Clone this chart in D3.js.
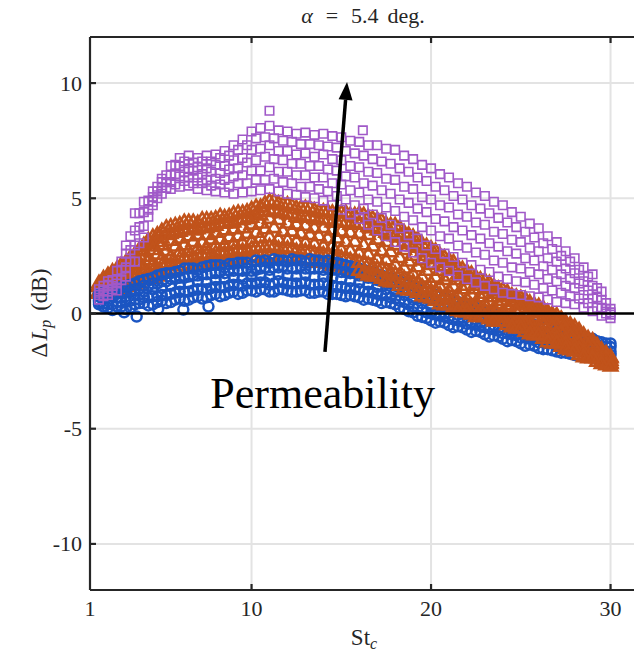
<!DOCTYPE html>
<html><head><meta charset="utf-8">
<script src="https://cdn.jsdelivr.net/npm/d3@7"></script>
<style>body{margin:0;background:#fff;} svg{display:block;}</style>
</head><body>
<svg id="chart" width="634" height="655"></svg>
<script>
// ---------- data ----------
const stGridA = [1.5,2,2.5,3,3.5,4,4.5,5,5.5,6,6.5,7,7.5,8,8.5,9,9.5,10,10.5,11,11.5,12,12.5,13,13.5,14,14.5,15,15.5,16,16.5,17,17.5,18,18.5,19,19.5,20,20.5,21,21.5,22,22.5,23,23.5,24,24.5,25,25.5,26,26.5,27,27.5,28,28.5,29,29.5,30];
const stGridB = [1.75,2.25,2.75,3.25,3.75,4.25,4.75,5.25,5.75,6.25,6.75,7.25,7.75,8.25,8.75,9.25,9.75,10.25,10.75,11.25,11.75,12.25,12.75,13.25,13.75,14.25,14.75,15.25,15.75,16.25,16.75,17.25,17.75,18.25,18.75,19.25,19.75,20.25,20.75,21.25,21.75,22.25,22.75,23.25,23.75,24.25,24.75,25.25,25.75,26.25,26.75,27.25,27.75,28.25,28.75,29.25,29.75];

// blue circles
const blueA1 = [0.85,0.95,1.05,1.2,1.3,1.45,1.55,1.7,1.75,1.85,1.95,1.9,2.05,2.1,2.0,2.15,2.2,2.1,2.25,2.2,2.3,2.25,2.3,2.2,2.3,2.25,2.2,2.15,2.05,1.95,1.85,1.7,1.6,1.45,1.3,1.2,1.0,0.9,0.75,0.6,0.5,0.35,0.25,0.1,0.0,-0.15,-0.2,-0.35,-0.4,-0.55,-0.6,-0.75,-0.8,-0.95,-1.0,-1.1,-1.25,-1.3];
const blueA2 = [0.6,0.55,0.7,0.75,0.85,0.95,1.05,1.1,1.2,1.25,1.3,1.4,1.35,1.45,1.5,1.55,1.5,1.6,1.65,1.6,1.7,1.65,1.6,1.7,1.6,1.6,1.55,1.5,1.4,1.35,1.25,1.15,1.05,0.95,0.8,0.6,0.45,0.3,0.2,0.05,-0.05,-0.15,-0.25,-0.35,-0.5,-0.6,-0.7,-0.8,-0.9,-1.0,-1.1,-1.15,-1.25,-1.35,-1.4,-1.5,-1.55,-1.65];
const blueA3 = [0.4,0.25,0.3,0.2,0.4,0.45,0.4,0.55,0.5,0.65,0.6,0.75,0.7,0.85,0.8,0.95,0.9,1.0,1.05,0.95,1.05,1.0,0.95,1.0,0.9,0.95,0.85,0.8,0.8,0.7,0.65,0.55,0.5,0.4,0.2,0.05,-0.15,-0.3,-0.35,-0.5,-0.55,-0.7,-0.75,-0.9,-0.95,-1.1,-1.15,-1.3,-1.35,-1.5,-1.55,-1.65,-1.7,-1.8,-1.85,-1.9,-1.95,-2.0];
const blueA4 = [0.75,0.8,0.85,1.0,1.05,1.2,1.3,1.4,1.5,1.55,1.6,1.65,1.7,1.75,1.75,1.85,1.85,1.85,1.95,1.9,2.0,1.95,1.95,1.95,1.95,1.9,1.9,1.8,1.75,1.65,1.55,1.45,1.3,1.2,1.05,0.9,0.7,0.6,0.45,0.35,0.2,0.1,0.0,-0.1,-0.25,-0.35,-0.45,-0.55,-0.65,-0.8,-0.85,-0.95,-1.05,-1.15,-1.2,-1.3,-1.4,-1.45];
const blueA5 = [0.5,0.4,0.5,0.5,0.6,0.7,0.75,0.8,0.85,0.95,0.95,1.05,1.05,1.15,1.15,1.25,1.2,1.3,1.35,1.25,1.4,1.3,1.3,1.35,1.25,1.3,1.2,1.15,1.1,1.05,0.95,0.85,0.8,0.65,0.5,0.3,0.15,0.0,-0.1,-0.2,-0.3,-0.45,-0.5,-0.6,-0.7,-0.85,-0.9,-1.05,-1.1,-1.25,-1.3,-1.4,-1.45,-1.55,-1.6,-1.7,-1.75,-1.8];
const blueB1 = [0.7,0.75,0.9,1.0,1.1,1.2,1.3,1.4,1.5,1.55,1.65,1.7,1.75,1.8,1.85,1.9,1.95,1.9,2.0,2.0,2.05,2.0,2.05,1.95,2.0,1.95,1.9,1.8,1.75,1.65,1.55,1.4,1.3,1.15,1.0,0.85,0.65,0.55,0.4,0.3,0.15,0.05,-0.1,-0.2,-0.3,-0.4,-0.5,-0.6,-0.7,-0.8,-0.9,-1.0,-1.05,-1.15,-1.25,-1.35,-1.45];
const blueB2 = [0.45,0.4,0.5,0.55,0.6,0.7,0.75,0.8,0.9,0.95,1.0,1.05,1.1,1.15,1.2,1.25,1.3,1.3,1.35,1.3,1.35,1.3,1.3,1.25,1.25,1.2,1.15,1.1,1.05,0.95,0.9,0.8,0.7,0.55,0.4,0.25,0.05,-0.05,-0.15,-0.25,-0.35,-0.45,-0.55,-0.65,-0.75,-0.85,-0.95,-1.05,-1.15,-1.25,-1.3,-1.4,-1.5,-1.55,-1.65,-1.7,-1.8];
const blueB3 = [0.3,0.15,0.3,0.25,0.45,0.35,0.5,0.45,0.6,0.55,0.7,0.65,0.8,0.75,0.9,0.85,1.0,0.95,1.05,0.95,1.05,0.95,1.0,0.9,0.95,0.85,0.85,0.75,0.75,0.6,0.6,0.45,0.45,0.25,0.1,-0.1,-0.2,-0.4,-0.4,-0.6,-0.6,-0.8,-0.8,-1.0,-1.0,-1.2,-1.2,-1.4,-1.4,-1.55,-1.6,-1.7,-1.75,-1.85,-1.85,-1.95,-1.95];
const blueB4 = [0.9,1.0,1.15,1.25,1.4,1.5,1.65,1.75,1.8,1.95,1.95,2.0,2.1,2.1,2.15,2.2,2.2,2.3,2.3,2.35,2.3,2.35,2.3,2.35,2.3,2.3,2.2,2.1,2.0,1.9,1.8,1.65,1.55,1.4,1.25,1.1,0.95,0.8,0.7,0.55,0.4,0.3,0.15,0.05,-0.05,-0.2,-0.3,-0.4,-0.5,-0.6,-0.7,-0.8,-0.9,-1.0,-1.1,-1.2,-1.3];
const blueExtraSt = [3.6,6.2,7.6,2.9,4.8];
const blueExtraDb = [-0.13,0.17,0.3,0.05,0.2];

// orange triangles
const orangeA1 = [1.3,1.65,1.9,2.2,2.55,2.95,3.3,3.55,3.75,3.85,3.95,3.9,4.05,4.1,4.15,4.3,4.35,4.5,4.6,4.85,4.75,4.7,4.55,4.55,4.45,4.4,4.35,4.35,4.25,4.3,4.15,4.05,3.85,3.8,3.5,3.3,3.0,2.8,2.5,2.3,2.0,1.8,1.55,1.4,1.15,1.0,0.75,0.65,0.45,0.3,0.05,-0.1,-0.4,-0.6,-0.95,-1.2,-1.6,-1.9];
const orangeA2 = [1.15,1.4,1.65,1.8,2.2,2.45,2.75,2.95,3.15,3.25,3.35,3.4,3.4,3.5,3.6,3.65,3.7,3.85,3.9,4.1,4.05,3.9,3.85,3.8,3.7,3.7,3.6,3.55,3.5,3.45,3.4,3.2,3.1,2.95,2.75,2.5,2.3,2.1,1.85,1.6,1.45,1.2,1.05,0.85,0.7,0.55,0.35,0.2,0.05,-0.15,-0.3,-0.5,-0.75,-0.95,-1.2,-1.45,-1.75,-2.05];
const orangeA3 = [0.95,1.2,1.3,1.5,1.65,1.95,2.1,2.35,2.45,2.65,2.7,2.8,2.8,2.9,2.95,3.0,3.05,3.1,3.25,3.3,3.2,3.15,3.1,3.05,3.0,2.9,2.9,2.75,2.7,2.6,2.55,2.35,2.3,2.1,1.95,1.7,1.55,1.3,1.15,0.95,0.8,0.6,0.45,0.35,0.2,0.05,-0.1,-0.25,-0.4,-0.55,-0.8,-0.9,-1.15,-1.3,-1.55,-1.75,-1.95,-2.15];
const orangeA4 = [0.85,0.95,1.0,1.15,1.2,1.45,1.5,1.75,1.8,2.05,2.05,2.2,2.15,2.35,2.25,2.4,2.35,2.45,2.4,2.55,2.4,2.45,2.3,2.35,2.2,2.25,2.05,2.05,1.85,1.85,1.65,1.6,1.4,1.35,1.05,1.0,0.75,0.65,0.4,0.35,0.1,0.05,-0.15,-0.15,-0.35,-0.35,-0.6,-0.65,-0.9,-0.95,-1.25,-1.3,-1.55,-1.65,-1.9,-1.95,-2.2,-2.3];
const orangeA5 = [1.2,1.5,1.8,2.0,2.35,2.7,3.0,3.25,3.45,3.55,3.65,3.65,3.7,3.8,3.9,3.95,4.05,4.15,4.25,4.45,4.4,4.3,4.2,4.15,4.1,4.05,3.95,3.95,3.85,3.85,3.75,3.6,3.5,3.35,3.1,2.9,2.65,2.45,2.2,1.95,1.7,1.5,1.3,1.1,0.95,0.75,0.55,0.45,0.25,0.1,-0.1,-0.3,-0.55,-0.8,-1.05,-1.35,-1.65,-1.95];
const orangeA6 = [0.9,1.05,1.15,1.3,1.45,1.7,1.8,2.05,2.1,2.35,2.4,2.5,2.5,2.6,2.6,2.7,2.7,2.8,2.85,2.9,2.8,2.8,2.7,2.7,2.6,2.55,2.5,2.4,2.3,2.2,2.1,1.95,1.85,1.7,1.5,1.35,1.15,0.95,0.8,0.65,0.45,0.3,0.15,0.1,-0.1,-0.15,-0.35,-0.45,-0.65,-0.75,-1.0,-1.1,-1.35,-1.45,-1.7,-1.85,-2.05,-2.2];
const orangeB1 = [1.4,1.7,1.9,2.25,2.5,2.9,3.1,3.4,3.5,3.65,3.6,3.75,3.75,3.9,3.9,4.05,4.1,4.3,4.4,4.5,4.35,4.3,4.15,4.2,4.05,4.05,3.95,3.95,3.85,3.85,3.7,3.6,3.4,3.3,3.0,2.85,2.5,2.35,2.05,1.9,1.6,1.45,1.2,1.05,0.85,0.7,0.5,0.35,0.2,0.0,-0.2,-0.45,-0.65,-0.95,-1.2,-1.5,-1.8];
const orangeB2 = [1.2,1.35,1.6,1.75,2.1,2.3,2.55,2.7,2.9,2.95,3.1,3.05,3.2,3.2,3.3,3.35,3.45,3.5,3.65,3.7,3.55,3.55,3.45,3.4,3.35,3.25,3.25,3.1,3.1,2.95,2.9,2.7,2.65,2.4,2.25,2.0,1.85,1.55,1.45,1.15,1.05,0.8,0.7,0.5,0.4,0.2,0.05,-0.15,-0.25,-0.5,-0.6,-0.85,-1.0,-1.3,-1.45,-1.75,-1.95];
const orangeB3 = [0.95,1.15,1.2,1.4,1.55,1.8,1.9,2.15,2.2,2.4,2.4,2.55,2.5,2.65,2.6,2.75,2.7,2.85,2.85,2.9,2.8,2.8,2.65,2.7,2.55,2.55,2.4,2.4,2.2,2.2,2.0,1.95,1.75,1.65,1.4,1.3,1.05,0.95,0.7,0.6,0.35,0.3,0.1,0.05,-0.15,-0.2,-0.45,-0.5,-0.75,-0.85,-1.1,-1.2,-1.45,-1.55,-1.8,-1.95,-2.15];
const orangeB4 = [1.5,1.8,2.1,2.4,2.75,3.15,3.4,3.7,3.8,3.95,3.95,4.05,4.05,4.2,4.2,4.35,4.4,4.6,4.75,4.85,4.7,4.65,4.55,4.55,4.4,4.4,4.35,4.35,4.25,4.25,4.1,4.0,3.8,3.7,3.4,3.2,2.9,2.7,2.4,2.2,1.9,1.7,1.45,1.3,1.05,0.9,0.7,0.6,0.35,0.2,-0.05,-0.25,-0.5,-0.75,-1.1,-1.4,-1.75];
const orangeB5 = [0.8,0.95,1.05,1.2,1.3,1.5,1.6,1.8,1.9,2.05,2.1,2.2,2.25,2.3,2.3,2.4,2.4,2.45,2.45,2.5,2.4,2.4,2.3,2.3,2.2,2.15,2.05,1.95,1.85,1.75,1.6,1.5,1.35,1.2,1.0,0.9,0.7,0.55,0.35,0.25,0.05,-0.05,-0.15,-0.25,-0.35,-0.5,-0.65,-0.8,-0.95,-1.1,-1.3,-1.45,-1.6,-1.8,-1.95,-2.1,-2.25];

// purple squares
const purpleA1 = [1.05,1.4,1.85,2.95,4.35,4.85,5.3,5.85,6.4,6.75,6.85,6.75,6.85,6.9,7.05,7.3,7.55,7.9,8.05,8.15,7.95,7.9,7.8,7.85,7.75,7.8,7.7,7.65,7.5,7.45,7.3,7.3,7.15,7.1,6.85,6.7,6.45,6.3,6.05,5.9,5.65,5.5,5.25,5.1,4.85,4.7,4.4,4.2,3.9,3.7,3.35,3.1,2.7,2.4,2.0,1.7,0.95,0.2];
const purpleA2 = [0.9,1.25,1.5,2.6,3.6,4.4,5.05,5.7,6.0,6.4,6.3,6.35,6.3,6.45,6.4,6.65,6.75,7.1,7.15,7.3,7.05,7.05,6.9,6.95,6.8,6.9,6.7,6.65,6.4,6.35,6.15,6.1,5.85,5.8,5.5,5.4,5.05,4.95,4.7,4.6,4.3,4.2,3.95,3.85,3.55,3.45,3.2,3.1,2.85,2.7,2.4,2.25,1.95,1.75,1.4,1.2,0.6,0.05];
const purpleA3 = [0.8,0.95,1.3,2.0,2.95,3.8,4.85,5.45,5.7,5.95,5.9,5.9,5.8,5.85,5.8,5.95,6.0,6.2,6.2,6.35,6.15,6.15,6.0,6.0,5.9,5.9,5.65,5.6,5.35,5.25,4.95,4.85,4.6,4.45,4.2,4.05,3.75,3.6,3.35,3.25,2.95,2.85,2.65,2.55,2.3,2.2,2.0,1.95,1.8,1.7,1.5,1.4,1.2,1.1,0.8,0.65,0.25,-0.05];
const purpleA4 = [0.6,0.8,1.0,1.6,2.25,3.3,4.7,5.2,5.4,5.5,5.55,5.4,5.35,5.3,5.25,5.2,5.25,5.3,5.35,5.4,5.3,5.2,5.15,5.05,5.0,4.9,4.7,4.5,4.3,4.1,3.85,3.6,3.35,3.1,2.9,2.65,2.4,2.2,2.0,1.85,1.65,1.5,1.35,1.2,1.05,0.9,0.85,0.8,0.75,0.7,0.6,0.5,0.45,0.4,0.25,0.1,-0.1,-0.2];
const purpleB1 = [1.2,1.45,2.25,3.35,4.35,4.9,5.5,6.0,6.45,6.6,6.55,6.6,6.6,6.75,6.85,7.1,7.3,7.6,7.65,7.6,7.5,7.45,7.35,7.35,7.3,7.25,7.2,7.05,6.95,6.85,6.7,6.6,6.5,6.3,6.15,5.9,5.75,5.5,5.35,5.1,4.95,4.7,4.55,4.35,4.15,3.95,3.75,3.55,3.3,3.05,2.8,2.5,2.25,1.9,1.6,1.1,0.45];
const purpleB2 = [1.0,1.2,1.9,2.75,3.75,4.5,5.3,5.7,6.05,6.15,6.2,6.05,6.15,6.1,6.25,6.3,6.55,6.65,6.8,6.7,6.65,6.5,6.5,6.4,6.4,6.25,6.2,5.95,5.9,5.65,5.55,5.35,5.2,4.95,4.8,4.55,4.4,4.1,4.0,3.75,3.6,3.4,3.25,3.05,2.9,2.7,2.6,2.4,2.3,2.05,1.9,1.7,1.5,1.3,1.0,0.7,0.2];
const purpleB3 = [0.75,1.05,1.45,2.25,3.05,4.2,5.0,5.45,5.6,5.75,5.65,5.65,5.55,5.6,5.5,5.65,5.65,5.8,5.8,5.85,5.7,5.65,5.5,5.5,5.4,5.3,5.1,4.95,4.7,4.55,4.3,4.15,3.85,3.7,3.4,3.25,2.95,2.8,2.6,2.45,2.2,2.1,1.9,1.8,1.6,1.5,1.4,1.35,1.25,1.1,1.0,0.9,0.75,0.65,0.45,0.25,0.0];
const purpleExtraSt = [11.0,16.2];
const purpleExtraDb = [8.8,7.95];

const xTicks = [1,10,20,30];
const yTicks = [10,5,0,-5,-10];
const yTickLabels = ["10","5","0","-5","-10"];

// ---------- drawing ----------
const svg = d3.select('#chart');
const L = 90, T = 37, B = 590, R = 634;
const x = d3.scaleLinear().domain([1, 32]).range([L, L + 31 * 17.95]);
const y = d3.scaleLinear().domain([-12, 12]).range([B, T]);
const FONT = "'Liberation Serif','DejaVu Serif',serif";
const axisCol = '#262626';

svg.append('clipPath').attr('id','plotclip').append('rect')
  .attr('x', L).attr('y', T).attr('width', R - L + 20).attr('height', B - T);

// grid
const grid = svg.append('g').attr('stroke', '#e3e3e3').attr('stroke-width', 2);
grid.selectAll('.gx').data(xTicks.slice(1)).join('line')
  .attr('x1', d => x(d)).attr('x2', d => x(d)).attr('y1', T).attr('y2', B);
grid.selectAll('.gy').data(yTicks).join('line')
  .attr('x1', L).attr('x2', R).attr('y1', d => y(d)).attr('y2', d => y(d));

// build series
function pts(st, db) { return st.map((s, i) => [s, db[i]]).filter(p => p[1] !== undefined); }
const blueCol = '#1b55c2', orangeCol = '#c1531b', purpleCol = '#a059c8';
const blueSets = [pts(stGridA, blueA3), pts(stGridB, blueB3), pts(stGridA, blueA5), pts(stGridB, blueB2), pts(stGridA, blueA2), pts(stGridB, blueB1), pts(stGridA, blueA4), pts(stGridB, blueB4), pts(stGridA, blueA1), pts(blueExtraSt, blueExtraDb)];
const orangeSets = [pts(stGridA, orangeA1), pts(stGridB, orangeB4), pts(stGridA, orangeA5), pts(stGridB, orangeB1), pts(stGridA, orangeA2), pts(stGridB, orangeB2), pts(stGridA, orangeA3), pts(stGridB, orangeB3), pts(stGridA, orangeA6), pts(stGridB, orangeB5), pts(stGridA, orangeA4)];
const purpleSets = [pts(stGridA, purpleA1), pts(stGridB, purpleB1), pts(stGridA, purpleA2), pts(stGridB, purpleB2), pts(stGridA, purpleA3), pts(stGridB, purpleB3), pts(stGridA, purpleA4), pts(purpleExtraSt, purpleExtraDb)];

const plot = svg.append('g').attr('clip-path', 'url(#plotclip)');
const circ = d3.symbol().type(d3.symbolCircle).size(78)();
const tri = d3.symbol().type(d3.symbolTriangle).size(78)();
const sq = d3.symbol().type(d3.symbolSquare).size(72)();

function drawSet(data, path, col, sw) {
  plot.append('g').selectAll('path').data(data).join('path')
    .attr('d', path)
    .attr('transform', d => `translate(${x(d[0])},${y(d[1])})`)
    .attr('fill', 'none').attr('stroke', col).attr('stroke-width', sw);
}
// stacking as in the reference: blue sits over orange at low St, orange over blue at high St
const splitSt = 16;
orangeSets.forEach(s => drawSet(s.filter(p => p[0] < splitSt), tri, orangeCol, 2.6));
blueSets.forEach(s => drawSet(s, circ, blueCol, 2.5));
orangeSets.forEach(s => drawSet(s.filter(p => p[0] >= splitSt), tri, orangeCol, 2.6));
purpleSets.forEach(s => drawSet(s, sq, purpleCol, 1.6));

// zero line
svg.append('line').attr('x1', L).attr('x2', R).attr('y1', y(0)).attr('y2', y(0))
  .attr('stroke', '#000').attr('stroke-width', 2.5);

// axes box (left, top, bottom)
const ax = svg.append('g').attr('stroke', axisCol).attr('stroke-width', 2.2).attr('fill', 'none');
ax.append('line').attr('x1', L).attr('x2', L).attr('y1', T).attr('y2', B);
ax.append('line').attr('x1', L).attr('x2', R).attr('y1', T).attr('y2', T);
ax.append('line').attr('x1', L).attr('x2', R).attr('y1', B).attr('y2', B);
// ticks inward
ax.selectAll('.tb').data(xTicks.slice(1)).join('line')
  .attr('x1', d => x(d)).attr('x2', d => x(d)).attr('y1', B).attr('y2', B - 6);
ax.selectAll('.tt').data(xTicks.slice(1)).join('line')
  .attr('x1', d => x(d)).attr('x2', d => x(d)).attr('y1', T).attr('y2', T + 6);
ax.selectAll('.tl').data(yTicks).join('line')
  .attr('x1', L).attr('x2', L + 6).attr('y1', d => y(d)).attr('y2', d => y(d));

// tick labels
svg.append('g').selectAll('text').data(xTicks).join('text')
  .attr('x', d => x(d)).attr('y', 616).attr('text-anchor', 'middle')
  .attr('font-family', FONT).attr('font-size', 22).attr('fill', axisCol)
  .text(d => d);
svg.append('g').selectAll('text').data(yTicks).join('text')
  .attr('x', 82).attr('y', d => y(d) + 7.5).attr('text-anchor', 'end')
  .attr('font-family', FONT).attr('font-size', 22).attr('fill', axisCol)
  .text((d, i) => yTickLabels[i]);

// title
const title = svg.append('text').attr('x', 363).attr('y', 23).attr('text-anchor', 'middle')
  .attr('font-family', FONT).attr('font-size', 22).attr('fill', axisCol);
title.append('tspan').attr('font-style', 'italic').text('α');
title.append('tspan').attr('dx', 13).text('=');
title.append('tspan').attr('dx', 13).text('5.4');
title.append('tspan').attr('dx', 9).text('deg.');

// x label
const xl = svg.append('text').attr('x', 364).attr('y', 645).attr('text-anchor', 'middle')
  .attr('font-family', FONT).attr('font-size', 23).attr('fill', axisCol);
xl.append('tspan').text('St');
xl.append('tspan').attr('font-style', 'italic').attr('font-size', 16).attr('dy', 4).text('c');

// y label
const yl = svg.append('text').attr('transform', 'translate(47,313) rotate(-90)').attr('text-anchor', 'middle')
  .attr('font-family', FONT).attr('font-size', 23).attr('fill', axisCol);
yl.append('tspan').text('Δ');
yl.append('tspan').attr('dx', 2).attr('font-style', 'italic').text('L');
yl.append('tspan').attr('font-style', 'italic').attr('font-size', 16).attr('dy', 4).text('p');
yl.append('tspan').attr('dy', -4).attr('dx', 9).text('(dB)');

// annotation arrow
const arrowTail = [14.09, -1.67], arrowTip = [15.32, 10.05];
const tx = x(arrowTail[0]), ty = y(arrowTail[1]), hx = x(arrowTip[0]), hy = y(arrowTip[1]);
const ang = Math.atan2(hy - ty, hx - tx);
const headLen = 18, headW = 7;
const bx = hx - headLen * Math.cos(ang), by = hy - headLen * Math.sin(ang);
svg.append('line').attr('x1', tx).attr('y1', ty).attr('x2', bx).attr('y2', by)
  .attr('stroke', '#000').attr('stroke-width', 3.5);
const px = -Math.sin(ang), py = Math.cos(ang);
svg.append('path').attr('d', `M${hx},${hy}L${bx + px * headW},${by + py * headW}L${bx - px * headW},${by - py * headW}Z`)
  .attr('fill', '#000');

svg.append('text').attr('x', x(7.7)).attr('y', 408)
  .attr('font-family', FONT).attr('font-size', 44).attr('fill', '#000')
  .text('Permeability');
</script>
</body></html>
